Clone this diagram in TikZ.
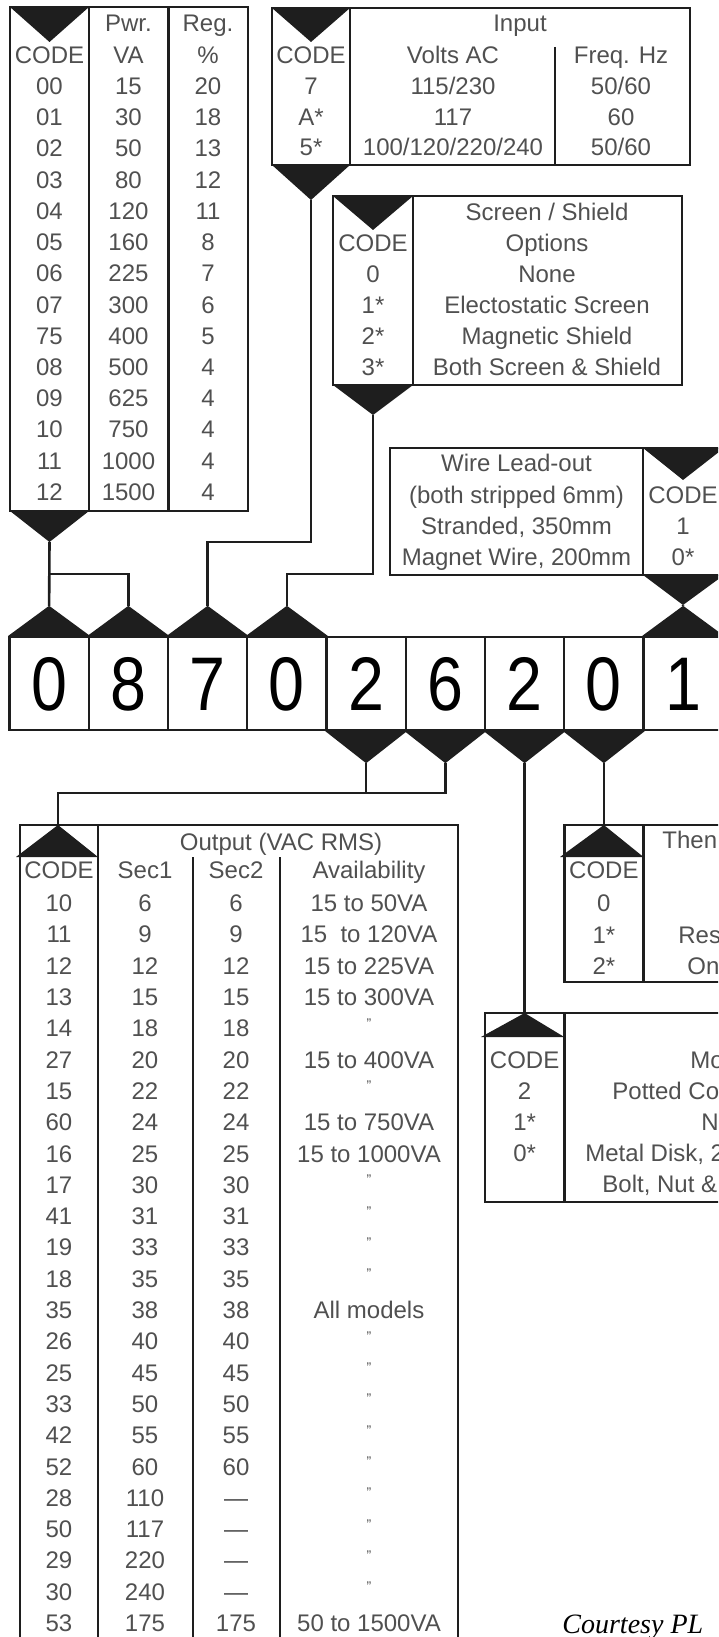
\documentclass[tikz,border=0pt]{standalone}
\usepackage{fontspec}
\setmainfont{Liberation Sans}
\newfontfamily\creditfont{Liberation Serif}
\newfontfamily\digitfont[FakeStretch=0.85]{Liberation Sans}
\usetikzlibrary{calc}
\definecolor{lineink}{HTML}{1E1E1E}
\definecolor{textink}{HTML}{505050}

\begin{document}
\begin{tikzpicture}[
    x=0.5pt, y=-0.5pt,
    every node/.style={font=\fontsize{12}{14}\selectfont, text=textink, inner sep=0pt, text height=8.6pt, text depth=0pt},
    rule/.style={line width=1.3pt, lineink},
    wire/.style={line width=1.3pt, lineink},
    tri/.style={fill=lineink},
    digitbox/.style={draw=lineink, line width=1.2pt, minimum width=39.6pt, minimum height=46.5pt, font=\digitfont\fontsize{38}{40}\selectfont, text=black, text height=27.2pt},
    ditto/.style={font=\fontsize{7}{7}\selectfont, anchor=base},
    credit/.style={font=\creditfont\itshape\fontsize{14}{16}\selectfont, text=black, anchor=base west}
]
\useasboundingbox (0,0) rectangle (718,1637);
\clip (0,0) rectangle (718,1637);

% Part number digits
\foreach \d [count=\i] in {0,8,7,0,2,6,2,0,1} {
    \node[digitbox] (d\i) at ({79.25*\i-30.125}, 683.5) {\d};
}
\foreach \i in {1,2,3,4,9} {
    \coordinate (up\i) at ($(d\i.north)+(0,-30)$);
    \fill[tri] (d\i.north west) -- (d\i.north east) -- (up\i) -- cycle;
}
\foreach \i in {5,...,8} {
    \coordinate (dn\i) at ($(d\i.south)+(0,32)$);
    \fill[tri] (d\i.south west) -- (d\i.south east) -- (dn\i) -- cycle;
}

% Power / regulation
\draw[rule] (10,7) rectangle (248,511);
\draw[rule] (89,7) -- (89,511) (168.5,7) -- (168.5,511);
\fill[tri] (10,7) -- (89,7) -- (49.5,42) -- cycle;
\fill[tri] (10,511) -- (89,511) -- (49.5,542) -- cycle;
\coordinate (pwrout) at (49.5,542);
\node (pwrhd) at (128.5,23) {Pwr.};
\node (reghd) at (208,23) {Reg.};
\node (pwrcode) at (49.5,55) {CODE};
\node (vahd) at (128.5,55) {VA};
\node (pcthd) at (208,55) {\%};
\foreach \cd/\pw/\rg [count=\i from 0] in {00/15/20, 01/30/18, 02/50/13, 03/80/12, 04/120/11, 05/160/8, 06/225/7, 07/300/6, 75/400/5, 08/500/4, 09/625/4, 10/750/4, 11/1000/4, 12/1500/4} {
    \node (pc\i) at (49.5, 86+31.2*\i) {\cd};
    \node (pv\i) at (128.5, 86+31.2*\i) {\pw};
    \node (pr\i) at (208, 86+31.2*\i) {\rg};
}

% Input
\draw[rule] (272,8) rectangle (690,165);
\draw[rule] (350,8) -- (350,165) (555,47) -- (555,165);
\fill[tri] (272,8) -- (350,8) -- (311,42) -- cycle;
\fill[tri] (272,165) -- (350,165) -- (311,200) -- cycle;
\coordinate (inout) at (311,200);
\node (inhd) at (520,23) {Input};
\node (incode) at (311,55) {CODE};
\node (volthd) at (453,55) {Volts AC};
\node (freqhd) at (621,55) {Freq. Hz};
\node (inc1) at (311,86) {7};
\node (inv1) at (453,86) {115/230};
\node (inf1) at (621,86) {50/60};
\node (inc2) at (311,116.5) {A*};
\node (inv2) at (453,116.5) {117};
\node (inf2) at (621,116.5) {60};
\node (inc3) at (311,147) {5*};
\node (inv3) at (453,147) {100/120/220/240};
\node (inf3) at (621,147) {50/60};

% Screen / shield
\draw[rule] (333,196) rectangle (682,385);
\draw[rule] (413,196) -- (413,385);
\fill[tri] (333,196) -- (413,196) -- (373,230) -- cycle;
\fill[tri] (333,385) -- (413,385) -- (373,415) -- cycle;
\coordinate (scrout) at (373,415);
\node (scrhd) at (547,212) {Screen / Shield};
\node (scrcode) at (373,243) {CODE};
\node (opthd) at (547,243) {Options};
\foreach \cd/\opt [count=\i from 0] in {0/None, 1*/Electostatic Screen, 2*/Magnetic Shield, 3*/Both Screen \& Shield} {
    \node (sc\i) at (373, 274+31*\i) {\cd};
    \node (so\i) at (547, 274+31*\i) {\opt};
}

% Wire lead-out
\draw[rule] (390,448) rectangle (724,575);
\draw[rule] (643,448) -- (643,575);
\fill[tri] (643,448) -- (724,448) -- (683,480) -- cycle;
\fill[tri] (643,575) -- (724,575) -- (683,605) -- cycle;
\coordinate (wireout) at (683,605);
\node (wirehd) at (516.5,463) {Wire Lead-out};
\node (wiresub) at (516.5,495) {(both stripped 6mm)};
\node (wirecode) at (683,495) {CODE};
\node (wires1) at (516.5,526) {Stranded, 350mm};
\node (wirec1) at (683,526) {1};
\node (wires2) at (516.5,557) {Magnet Wire, 200mm};
\node (wirec2) at (683,557) {0*};

% Output
\coordinate (outin) at (58,825);
\draw[rule] (20,1645) -- (20,825) -- (458,825) -- (458,1645);
\draw[rule] (98,825) -- (98,1645) (193,857) -- (193,1645) (280,857) -- (280,1645);
\fill[tri] (outin) -- (98,857) -- (16,857) -- cycle;
\node (outhd) at (281,842) {Output (VAC RMS)};
\node (outcode) at (59,870) {CODE};
\node (sec1hd) at (145,870) {Sec1};
\node (sec2hd) at (236,870) {Sec2};
\node (availhd) at (369,870) {Availability};
\foreach \cd/\sa/\sb [count=\i from 0] in {10/6/6, 11/9/9, 12/12/12, 13/15/15, 14/18/18, 27/20/20, 15/22/22, 60/24/24, 16/25/25, 17/30/30, 41/31/31, 19/33/33, 18/35/35, 35/38/38, 26/40/40, 25/45/45, 33/50/50, 42/55/55, 52/60/60, 28/110/---, 50/117/---, 29/220/---, 30/240/---, 53/175/175} {
    \node (oc\i) at (59, 903+31.3*\i) {\cd};
    \node (os\i) at (145, 903+31.3*\i) {\sa};
    \node (ot\i) at (236, 903+31.3*\i) {\sb};
}
\foreach \i/\av in {0/15 to 50VA, 1/15~ to 120VA, 2/15 to 225VA, 3/15 to 300VA, 5/15 to 400VA, 7/15 to 750VA, 8/15 to 1000VA, 13/All models, 23/50 to 1500VA} {
    \node (oa\i) at (369, 903+31.3*\i) {\av};
}
\foreach \i in {4,6,9,10,11,12,14,15,...,22} {
    \node[ditto] (odit\i) at (369, 903+31.3*\i) {"};
}

% Thermal
\coordinate (thmin) at (dn8 |- 0,825);
\draw[rule] (730,825) -| (564.25,982) -- (730,982);
\draw[rule] (643.5,825) -- (643.5,982);
\fill[tri] (thmin) -- (643.5,857) -- (560,857) -- cycle;
\node[anchor=west] (thmhd) at (662,840) {Then};
\node (thmcode) at (603.9,870) {CODE};
\node (thmc1) at (603.9,903) {0};
\node (thmc2) at (603.9,935) {1*};
\node (thmc3) at (603.9,966) {2*};
\node[anchor=west] (thmt2) at (678,935) {Res};
\node[anchor=west] (thmt3) at (687,966) {On};

% Mounting
\coordinate (mntin) at (dn7 |- 0,1013);
\draw[rule] (730,1013) -| (485,1202) -- (730,1202);
\draw[rule] (564.25,1013) -- (564.25,1202);
\fill[tri] (mntin) -- (564.25,1037) -- (481,1037) -- cycle;
\node (mntcode) at (524.6,1060) {CODE};
\node (mntc1) at (524.6,1091) {2};
\node (mntc2) at (524.6,1122) {1*};
\node (mntc3) at (524.6,1153) {0*};
\node[anchor=west] (mnthd) at (690,1060) {Mo};
\node[anchor=west] (mntt1) at (612,1091) {Potted Co};
\node[anchor=west] (mntt2) at (701,1122) {N};
\node[anchor=west] (mntt3) at (585,1153) {Metal Disk, 2};
\node[anchor=west] (mntt4) at (602,1184) {Bolt, Nut \&};

% Connectors
\draw[wire] (pwrout) -- (up1);
\draw[wire] (up2) |- ($(up1)+(0,-32)$);
\draw[wire] (inout) |- ($(up3)+(0,-64)$) -- (up3);
\draw[wire] (scrout) |- ($(up4)+(0,-32)$) -- (up4);
\draw[wire] (wireout) -- (up9);
\draw[wire] (dn5) -- ++(0,31);
\draw[wire] (dn6) |- ($(outin)+(0,-32)$) -- (outin);
\draw[wire] (dn7) -- (mntin);
\draw[wire] (dn8) -- (thmin);

\node[credit] (credit) at (562,1633) {Courtesy PL};
\end{tikzpicture}
\end{document}
